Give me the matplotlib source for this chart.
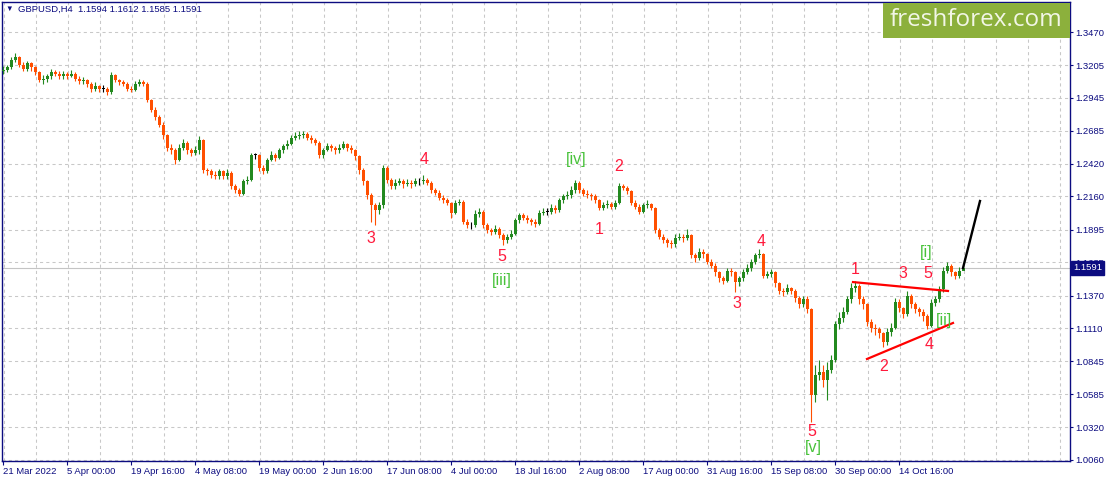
"""
GBPUSD H4 chart with Elliott wave marks, in the MetaTrader look.
Each candle here stands for four H4 bars read off the picture.
"""

import matplotlib
matplotlib.use("Agg")
import matplotlib.pyplot as plt
from matplotlib.patches import Rectangle
from matplotlib.transforms import blended_transform_factory


TITLE = "GBPUSD,H4  1.1594 1.1612 1.1585 1.1591"
LAST_PRICE = 1.1591
BARS_PER_CANDLE = 4

first_open = 1.316

closes = [
    1.317, 1.319, 1.325, 1.327, 1.321, 1.318, 1.322, 1.319, 1.315, 1.309,
    1.310, 1.312, 1.315, 1.314, 1.312, 1.314, 1.312, 1.314, 1.310, 1.308,
    1.309, 1.306, 1.302, 1.304, 1.302, 1.302, 1.299, 1.313, 1.309, 1.307,
    1.306, 1.302, 1.301, 1.306, 1.307, 1.306, 1.293, 1.285, 1.279, 1.273,
    1.265, 1.255, 1.253, 1.245, 1.255, 1.259, 1.253, 1.251, 1.253, 1.261,
    1.237, 1.236, 1.233, 1.232, 1.236, 1.232, 1.235, 1.224, 1.221, 1.218,
    1.228, 1.229, 1.249, 1.249, 1.239, 1.236, 1.245, 1.249, 1.247, 1.253,
    1.256, 1.258, 1.263, 1.264, 1.265, 1.266, 1.263, 1.261, 1.259, 1.249,
    1.253, 1.256, 1.255, 1.253, 1.255, 1.258, 1.255, 1.253, 1.248, 1.237,
    1.228, 1.217, 1.209, 1.205, 1.209, 1.239, 1.229, 1.224, 1.227, 1.228,
    1.226, 1.227, 1.226, 1.228, 1.228, 1.229, 1.227, 1.221, 1.219, 1.215,
    1.213, 1.211, 1.203, 1.211, 1.212, 1.196, 1.193, 1.193, 1.202, 1.204,
    1.193, 1.189, 1.188, 1.190, 1.185, 1.181, 1.184, 1.186, 1.197, 1.201,
    1.199, 1.197, 1.196, 1.194, 1.203, 1.204, 1.204, 1.207, 1.205, 1.213,
    1.216, 1.217, 1.221, 1.227, 1.221, 1.218, 1.217, 1.216, 1.213, 1.207,
    1.209, 1.210, 1.208, 1.211, 1.224, 1.223, 1.220, 1.211, 1.208, 1.204,
    1.209, 1.210, 1.207, 1.189, 1.184, 1.181, 1.179, 1.178, 1.183, 1.184,
    1.183, 1.185, 1.169, 1.167, 1.172, 1.170, 1.164, 1.161, 1.156, 1.151,
    1.149, 1.157, 1.156, 1.148, 1.151, 1.156, 1.159, 1.164, 1.169, 1.170,
    1.153, 1.154, 1.156, 1.147, 1.141, 1.140, 1.143, 1.141, 1.135, 1.130,
    1.134, 1.126, 1.058, 1.074, 1.076, 1.070, 1.078, 1.086, 1.114, 1.119,
    1.124, 1.134, 1.143, 1.145, 1.134, 1.130, 1.116, 1.111, 1.110, 1.107,
    1.100, 1.108, 1.111, 1.132, 1.127, 1.122, 1.137, 1.130, 1.126, 1.124,
    1.121, 1.113, 1.131, 1.134, 1.142, 1.157, 1.161, 1.156, 1.153, 1.157,
    1.1591,
]

highs = [
    1.320, 1.321, 1.327, 1.330, 1.328, 1.323, 1.324, 1.323, 1.320, 1.316,
    1.313, 1.314, 1.318, 1.317, 1.316, 1.316, 1.315, 1.317, 1.315, 1.312,
    1.311, 1.310, 1.307, 1.307, 1.305, 1.305, 1.303, 1.315, 1.314, 1.310,
    1.309, 1.307, 1.304, 1.308, 1.310, 1.309, 1.307, 1.294, 1.287, 1.281,
    1.275, 1.266, 1.258, 1.255, 1.258, 1.262, 1.260, 1.255, 1.256, 1.264,
    1.262, 1.239, 1.238, 1.236, 1.238, 1.237, 1.238, 1.236, 1.226, 1.223,
    1.230, 1.232, 1.251, 1.251, 1.250, 1.241, 1.247, 1.252, 1.251, 1.255,
    1.258, 1.261, 1.265, 1.267, 1.268, 1.268, 1.267, 1.265, 1.263, 1.260,
    1.255, 1.259, 1.258, 1.256, 1.258, 1.260, 1.259, 1.257, 1.254, 1.249,
    1.239, 1.229, 1.219, 1.211, 1.212, 1.241, 1.240, 1.231, 1.230, 1.231,
    1.230, 1.230, 1.229, 1.231, 1.231, 1.233, 1.231, 1.228, 1.223, 1.221,
    1.217, 1.215, 1.212, 1.213, 1.214, 1.213, 1.198, 1.196, 1.205, 1.207,
    1.205, 1.195, 1.191, 1.193, 1.192, 1.187, 1.186, 1.189, 1.199, 1.203,
    1.203, 1.201, 1.199, 1.198, 1.205, 1.207, 1.207, 1.210, 1.209, 1.215,
    1.218, 1.220, 1.224, 1.229, 1.228, 1.223, 1.221, 1.219, 1.218, 1.214,
    1.212, 1.213, 1.212, 1.213, 1.227, 1.226, 1.224, 1.221, 1.213, 1.210,
    1.211, 1.213, 1.211, 1.208, 1.191, 1.186, 1.183, 1.181, 1.186, 1.187,
    1.186, 1.190, 1.186, 1.171, 1.175, 1.174, 1.171, 1.166, 1.163, 1.157,
    1.153, 1.159, 1.159, 1.157, 1.153, 1.158, 1.162, 1.166, 1.171, 1.174,
    1.171, 1.157, 1.158, 1.157, 1.148, 1.143, 1.146, 1.144, 1.142, 1.137,
    1.137, 1.137, 1.127, 1.082, 1.086, 1.082, 1.084, 1.090, 1.117, 1.124,
    1.128, 1.137, 1.147, 1.149, 1.146, 1.137, 1.131, 1.118, 1.114, 1.112,
    1.108, 1.111, 1.115, 1.135, 1.134, 1.128, 1.141, 1.138, 1.132, 1.128,
    1.126, 1.122, 1.134, 1.137, 1.145, 1.160, 1.164, 1.162, 1.157, 1.160,
    1.1612,
]

lows = [
    1.314, 1.315, 1.318, 1.323, 1.319, 1.316, 1.316, 1.316, 1.313, 1.307,
    1.306, 1.307, 1.310, 1.312, 1.310, 1.310, 1.310, 1.311, 1.308, 1.306,
    1.306, 1.303, 1.299, 1.300, 1.299, 1.299, 1.297, 1.298, 1.307, 1.305,
    1.304, 1.300, 1.299, 1.300, 1.304, 1.304, 1.291, 1.283, 1.277, 1.271,
    1.262, 1.252, 1.250, 1.242, 1.244, 1.253, 1.250, 1.248, 1.249, 1.250,
    1.235, 1.233, 1.231, 1.230, 1.230, 1.230, 1.230, 1.222, 1.219, 1.216,
    1.217, 1.226, 1.228, 1.246, 1.236, 1.234, 1.235, 1.244, 1.244, 1.246,
    1.251, 1.254, 1.257, 1.261, 1.262, 1.263, 1.261, 1.259, 1.257, 1.247,
    1.247, 1.252, 1.252, 1.250, 1.251, 1.254, 1.252, 1.251, 1.245, 1.234,
    1.225, 1.214, 1.196, 1.193, 1.202, 1.207, 1.227, 1.222, 1.222, 1.225,
    1.223, 1.224, 1.223, 1.224, 1.225, 1.226, 1.225, 1.219, 1.217, 1.213,
    1.211, 1.209, 1.199, 1.202, 1.209, 1.194, 1.191, 1.190, 1.192, 1.200,
    1.191, 1.187, 1.185, 1.186, 1.183, 1.177, 1.179, 1.182, 1.185, 1.195,
    1.197, 1.195, 1.193, 1.192, 1.193, 1.201, 1.201, 1.202, 1.203, 1.204,
    1.211, 1.214, 1.215, 1.219, 1.219, 1.216, 1.215, 1.213, 1.211, 1.205,
    1.205, 1.207, 1.206, 1.206, 1.210, 1.221, 1.218, 1.209, 1.206, 1.202,
    1.203, 1.207, 1.205, 1.187, 1.182, 1.179, 1.176, 1.175, 1.176, 1.181,
    1.180, 1.181, 1.167, 1.164, 1.165, 1.167, 1.162, 1.159, 1.153, 1.148,
    1.146, 1.148, 1.153, 1.140, 1.145, 1.149, 1.154, 1.157, 1.162, 1.167,
    1.151, 1.151, 1.152, 1.144, 1.138, 1.137, 1.138, 1.138, 1.132, 1.127,
    1.128, 1.123, 1.036, 1.052, 1.070, 1.064, 1.054, 1.075, 1.084, 1.110,
    1.116, 1.122, 1.131, 1.140, 1.130, 1.126, 1.113, 1.108, 1.106, 1.103,
    1.096, 1.098, 1.105, 1.110, 1.124, 1.119, 1.121, 1.127, 1.123, 1.121,
    1.117, 1.110, 1.112, 1.129, 1.132, 1.140, 1.155, 1.153, 1.150, 1.151,
    1.1585,
]

date_labels = [
    "21 Mar 2022", "5 Apr 00:00", "19 Apr 16:00", "4 May 08:00",
    "19 May 00:00", "2 Jun 16:00", "17 Jun 08:00", "4 Jul 00:00",
    "18 Jul 16:00", "2 Aug 08:00", "17 Aug 00:00", "31 Aug 16:00",
    "15 Sep 08:00", "30 Sep 00:00", "14 Oct 16:00",
]

price_ticks = [
    1.3470, 1.3205, 1.2945, 1.2685, 1.2420, 1.2160, 1.1895,
    1.1635, 1.1370, 1.1110, 1.0845, 1.0585, 1.0320, 1.0060,
]

# wave marks: (text, bar, price)
wave_numbers = [
    ("3", 368, 1.1829), ("4", 421, 1.2451), ("5", 499, 1.1678),
    ("1", 596, 1.1893), ("2", 616, 1.2403), ("3", 734, 1.1311),
    ("4", 758, 1.1805), ("5", 809, 1.0291), ("1", 852, 1.1582),
    ("3", 900, 1.1550), ("5", 925, 1.1550), ("2", 881, 1.0809),
    ("4", 926, 1.0984),
]
wave_degrees = [
    ("[iii]", 499, 1.1494), ("[iv]", 573, 1.2451), ("[v]", 810, 1.0163),
    ("[i]", 923, 1.1710), ("[ii]", 941, 1.1168),
]

triangle_upper_bars = [850, 945]
triangle_upper_prices = [1.1478, 1.1407]
triangle_lower_bars = [864, 950]
triangle_lower_prices = [1.0865, 1.1152]
forecast_bars = [960, 977]
forecast_prices = [1.1590, 1.2124]

NAVY = "#0c0c80"
UP_COLOR = "#23891f"
DOWN_COLOR = "#ff4f00"
DOJI_COLOR = "#000000"
GRID_COLOR = "#c8c8c8"
WAVE_RED = "#ff1a3c"
WAVE_GREEN = "#48c23a"

W, H = 1111, 484


def draw_candles(ax):
    """
    Draw the candle wicks and bodies.
    """
    opens = [first_open] + closes[:-1]
    xs = [BARS_PER_CANDLE * i for i in range(len(closes))]

    colors = []
    for o, c in zip(opens, closes):
        if c > o:
            colors.append(UP_COLOR)
        elif c < o:
            colors.append(DOWN_COLOR)
        else:
            colors.append(DOJI_COLOR)

    ax.vlines(xs, lows, highs, colors=colors, linewidth=0.8, zorder=3)
    bottoms = [min(o, c) for o, c in zip(opens, closes)]
    heights = [max(abs(c - o), 0.0006) for o, c in zip(opens, closes)]
    ax.bar(xs, heights, bottom=bottoms, width=3.0, color=colors,
           linewidth=0, zorder=3)


def main():
    plt.rcParams["font.family"] = ["Liberation Sans", "DejaVu Sans"]

    fig = plt.figure(figsize=(W / 100, H / 100), dpi=100)
    fig.patch.set_facecolor("white")
    ax = fig.add_axes([2 / W, 23 / H, 1068 / W, 459 / H])
    ax.set_xlim(-1, 1067)
    ax.set_ylim(1.0052, 1.3710)

    # grid
    for gx in range(0, 1067, 32):
        ax.axvline(gx + 1, color=GRID_COLOR, linewidth=0.75,
                   linestyle=(0, (3, 3)), zorder=1)
    for gy in price_ticks:
        ax.axhline(gy, color=GRID_COLOR, linewidth=0.75,
                   linestyle=(0, (3, 3)), zorder=1)
    ax.axhline(LAST_PRICE, color="#c4c4c4", linewidth=0.8, zorder=2)

    draw_candles(ax)

    # triangle lines and forecast
    ax.plot(triangle_upper_bars, triangle_upper_prices, color="#ff0000",
            linewidth=1.6, zorder=4)
    ax.plot(triangle_lower_bars, triangle_lower_prices, color="#ff0000",
            linewidth=1.6, zorder=4)
    ax.plot(forecast_bars, forecast_prices, color="black", linewidth=1.7,
            zorder=4)

    for text, bx, py in wave_numbers:
        ax.text(bx, py, text, color=WAVE_RED, fontsize=11.5,
                ha="center", va="center", zorder=5)
    for text, bx, py in wave_degrees:
        ax.text(bx, py, text, color=WAVE_GREEN, fontsize=11.5,
                ha="center", va="center", zorder=5)

    # axes frame
    for side in ["left", "right", "top", "bottom"]:
        ax.spines[side].set_color(NAVY)
        ax.spines[side].set_linewidth(1.0)

    ax.yaxis.tick_right()
    ax.set_yticks(price_ticks, [f"{p:.4f}" for p in price_ticks])
    ax.tick_params(axis="y", direction="out", length=2.5, width=0.8,
                   colors=NAVY, labelsize=6.8, pad=1.5)

    ax.set_xticks([64 * i for i in range(len(date_labels))], date_labels)
    ax.tick_params(axis="x", direction="out", length=3, width=0.8,
                   colors=NAVY, labelsize=6.8, pad=1.5)
    for label in ax.get_xticklabels():
        label.set_horizontalalignment("left")

    # current price marker
    trans = blended_transform_factory(ax.transAxes, ax.transData)
    ax.text(1.0 + 3 / 1068, LAST_PRICE, f"{LAST_PRICE:.4f}", transform=trans,
            color="white", fontsize=6.8, ha="left", va="center",
            clip_on=False, zorder=10,
            bbox=dict(boxstyle="square,pad=0.25", facecolor=NAVY,
                      edgecolor=NAVY))

    # title
    fig.text(5 / W, 1 - 9 / H, "\u25bc", color=NAVY, fontsize=5.5,
             ha="left", va="center")
    fig.text(18 / W, 1 - 9 / H, TITLE, color=NAVY, fontsize=6.8,
             ha="left", va="center")

    # watermark
    fig.patches.append(Rectangle((883 / W, 1 - 38 / H), 187 / W, 35 / H,
                                 transform=fig.transFigure,
                                 facecolor="#8cb03c", edgecolor="none",
                                 zorder=6))
    fig.text(976 / W, 1 - 20 / H, "freshforex.com", color="#f2f6e6",
             fontsize=17.5, family="Open Sans", ha="center", va="center",
             zorder=7)

    fig.savefig("out.png", dpi=100)


if __name__ == "__main__":
    main()
